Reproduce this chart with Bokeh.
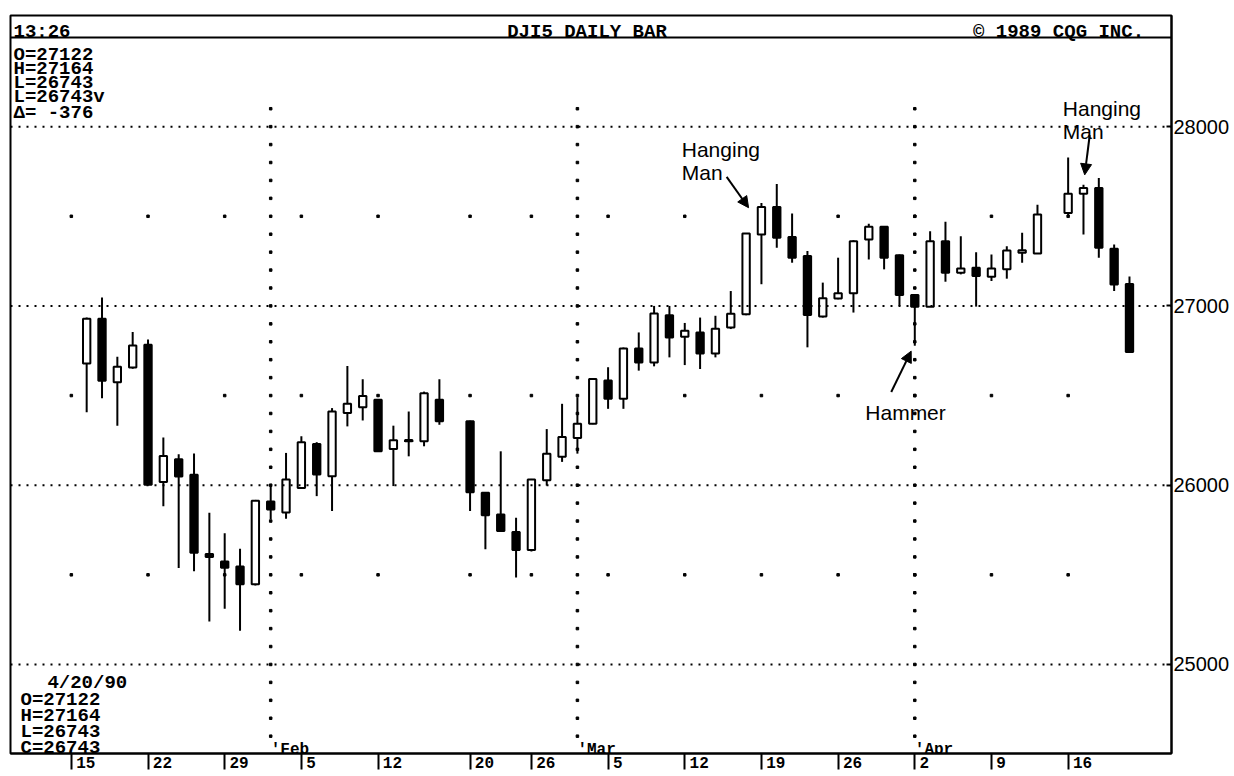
import numpy as np
from bokeh.plotting import figure
from bokeh.models import (Range1d, FixedTicker, Span, Arrow, NormalHead,
                          ColumnDataSource)
from bokeh.core.properties import value
from bokeh.embed import file_html
from bokeh.resources import INLINE

# ---------------- data ----------------
dates = ["1990-01-16", "1990-01-17", "1990-01-18", "1990-01-19",
         "1990-01-22", "1990-01-23", "1990-01-24", "1990-01-25", "1990-01-26",
         "1990-01-29", "1990-01-30", "1990-01-31", "1990-02-01", "1990-02-02",
         "1990-02-05", "1990-02-06", "1990-02-07", "1990-02-08", "1990-02-09",
         "1990-02-12", "1990-02-13", "1990-02-14", "1990-02-15", "1990-02-16",
         "1990-02-20", "1990-02-21", "1990-02-22", "1990-02-23",
         "1990-02-26", "1990-02-27", "1990-02-28", "1990-03-01", "1990-03-02",
         "1990-03-05", "1990-03-06", "1990-03-07", "1990-03-08", "1990-03-09",
         "1990-03-12", "1990-03-13", "1990-03-14", "1990-03-15", "1990-03-16",
         "1990-03-19", "1990-03-20", "1990-03-21", "1990-03-22", "1990-03-23",
         "1990-03-26", "1990-03-27", "1990-03-28", "1990-03-29", "1990-03-30",
         "1990-04-02", "1990-04-03", "1990-04-04", "1990-04-05", "1990-04-06",
         "1990-04-09", "1990-04-10", "1990-04-11", "1990-04-12",
         "1990-04-16", "1990-04-17", "1990-04-18", "1990-04-19", "1990-04-20"]

opens = [26679, 26928, 26574, 26656,
         26783, 26018, 26145, 26058, 25616,
         25574, 25547, 25447, 25909, 25847,
         25985, 26230, 26050, 26402, 26435,
         26476, 26202, 26245, 26245, 26476,
         26356, 25958, 25837, 25739,
         25639, 26028, 26158, 26263, 26343,
         26584, 26482, 26763, 26685, 26948,
         26828, 26852, 26735, 26880, 26954,
         27398, 27552, 27385, 27278, 26941,
         27041, 27071, 27371, 27441, 27282,
         27061, 26996, 27361, 27185, 27213,
         27163, 27204, 27296, 27293,
         27519, 27626, 27658, 27319, 27122]

highs = [26935, 27047, 26716, 26855,
         26812, 26266, 26172, 26177, 25846,
         25732, 25646, 25918, 26000, 26180,
         26273, 26240, 26430, 26665, 26591,
         26480, 26332, 26411, 26522, 26591,
         26360, 25960, 26189, 25819,
         26035, 26313, 26454, 26491, 26598,
         26658, 26768, 26852, 27000, 27000,
         26905, 26935, 26945, 27083, 27406,
         27574, 27680, 27515, 27306, 27130,
         27269, 27367, 27458, 27445, 27287,
         27063, 27417, 27469, 27389, 27300,
         27287, 27333, 27408, 27565,
         27828, 27676, 27713, 27343, 27164]

lows = [26407, 26485, 26331, 26650,
        26000, 25882, 25538, 25520, 25239,
        25311, 25188, 25440, 25810, 25813,
        25985, 25939, 25856, 26328, 26361,
        26185, 25995, 26161, 26217, 26337,
        25856, 25643, 25740, 25485,
        25630, 25998, 26130, 26176, 26340,
        26426, 26426, 26639, 26663, 26713,
        26670, 26648, 26713, 26871, 26948,
        27121, 27324, 27241, 26769, 26935,
        27037, 26963, 27259, 27204, 27000,
        26778, 26994, 27135, 27176, 26996,
        27139, 27152, 27241, 27290,
        27500, 27398, 27269, 27083, 26743]

closes = [26928, 26583, 26661, 26779,
          26003, 26163, 26049, 25623, 25600,
          25540, 25447, 25913, 25864, 26032,
          26239, 26060, 26411, 26454, 26498,
          26189, 26250, 26252, 26513, 26356,
          25961, 25832, 25745, 25639,
          26032, 26176, 26269, 26343, 26593,
          26482, 26763, 26685, 26958, 26824,
          26861, 26735, 26872, 26956, 27404,
          27552, 27380, 27269, 26950, 27043,
          27071, 27361, 27441, 27269, 27061,
          26996, 27361, 27185, 27209, 27167,
          27209, 27309, 27311, 27510,
          27626, 27658, 27324, 27119, 26743]

week_tick_dates = ["1990-01-15", "1990-01-22", "1990-01-29", "1990-02-05",
                   "1990-02-12", "1990-02-20", "1990-02-26", "1990-03-05",
                   "1990-03-12", "1990-03-19", "1990-03-26", "1990-04-02",
                   "1990-04-09", "1990-04-16"]
week_tick_labels = ["15", "22", "29", "5", "12", "20", "26", "5", "12", "19",
                    "26", "2", "9", "16"]
month_dates = ["1990-02-01", "1990-03-01", "1990-04-02"]
month_labels = ["'Feb", "'Mar", "'Apr"]
price_ticks = [25000, 26000, 27000, 28000]
price_labels = ["25000", "26000", "27000", "28000"]
half_levels = [25500, 26500, 27500]

header_left = "13:26"
header_title = "DJI5 DAILY BAR"
header_right = "\u00a9  1989 CQG INC."
info_top = ["O=27122", "H=27164", "L=26743", "L=26743v", "\u0394= -376"]
info_date = "4/20/90"
info_bottom = ["O=27122", "H=27164", "L=26743", "C=26743"]

# ---------------- layout helpers (page pixels -> data) ----------------
START = "1990-01-15"
PX0, PPD = 71.0, 15.375        # page x of index 0, pixels per weekday
PTOP, YTOP, PPU = 15.0, 28620.0, 0.18
W, H = 1232, 775


def xd(px):
    return (px - PX0) / PPD


def yd(py):
    return YTOP - (py - PTOP) / PPU


def bidx(d):
    return int(np.busday_count(START, d))


MONO = value("Liberation Mono")
SANS = value("Liberation Sans")
NB = "\u00a0"

p = figure(width=W, height=H, output_backend="svg", toolbar_location=None,
           x_range=Range1d(xd(10), xd(1174)), y_range=Range1d(yd(756), YTOP),
           y_axis_location="right")
p.min_border_left = 10
p.min_border_top = 15
p.min_border_right = 0
p.min_border_bottom = 0
p.grid.visible = False
p.outline_line_color = "black"
p.outline_line_width = 2
p.background_fill_color = "white"
p.border_fill_color = "white"

# bottom axis (labels padded so they sit just right of each tick mark)
wt = [bidx(d) for d in week_tick_dates]
xa = p.xaxis[0]
xa.ticker = FixedTicker(ticks=wt, minor_ticks=[])
xa.major_label_overrides = {t: NB * (len(l) + 1) + l
                            for t, l in zip(wt, week_tick_labels)}
xa.major_label_text_font = "Liberation Mono"
xa.major_label_text_font_size = "16px"
xa.major_label_text_font_style = "bold"
xa.major_label_text_color = "black"
xa.major_tick_in = 0
xa.major_tick_out = 16
xa.major_label_standoff = -15
xa.major_tick_line_width = 2
xa.major_tick_line_color = "black"
xa.axis_line_width = 2
xa.axis_line_color = "black"
xa.minor_tick_in = 0
xa.minor_tick_out = 0

# right axis
ya = p.yaxis[0]
ya.ticker = FixedTicker(ticks=price_ticks, minor_ticks=[])
ya.major_label_overrides = {t: l for t, l in zip(price_ticks, price_labels)}
ya.major_label_text_font = "Liberation Sans"
ya.major_label_text_font_size = "20px"
ya.major_label_text_color = "black"
ya.major_tick_in = 5
ya.major_tick_out = 0
ya.major_label_standoff = 2
ya.major_tick_line_width = 2
ya.axis_line_width = 2
ya.axis_line_color = "black"
ya.minor_tick_in = 0
ya.minor_tick_out = 0

# dotted grid
for lvl in price_ticks:
    p.add_layout(Span(location=lvl, dimension="width", line_color="black",
                      line_width=2, line_dash="2 6"))
gx, gy = [], []
for lvl in half_levels:
    for t in wt:
        gx.append(t)
        gy.append(lvl)
for d in month_dates:
    for lvl in np.arange(24600, 28101, 100):
        gx.append(bidx(d))
        gy.append(lvl)
p.scatter(gx, gy, marker="square", size=2.5, color="black")

# header band
p.add_layout(Span(location=yd(37), dimension="width", line_color="black",
                  line_width=2))
hdr = dict(text_font=MONO, text_font_size=value("19px"), text_color="black",
           text_baseline="alphabetic", text_font_style="bold")
p.text(x=[xd(13)], y=[yd(32)], text=[header_left], **hdr)
p.text(x=[xd(588)], y=[yd(32)], text=[header_title], text_align="center", **hdr)
p.text(x=[xd(975)], y=[yd(32)], text=[header_right], **hdr)

# info blocks
top_base = [55, 69, 83, 97, 113]
p.text(x=[xd(13)] * len(info_top), y=[yd(b) for b in top_base], text=info_top,
       **hdr)
p.text(x=[xd(47)], y=[yd(685)], text=[info_date], **hdr)
bot_base = [702, 718, 734, 750]
p.text(x=[xd(20)] * len(info_bottom), y=[yd(b) for b in bot_base],
       text=info_bottom, **hdr)

# month labels
p.text(x=[bidx(d) for d in month_dates], y=[yd(752)] * 3, text=month_labels,
       text_font=MONO, text_font_size=value("16px"), text_color="black",
       text_baseline="alphabetic", text_font_style="bold")

# candles
xs = [bidx(d) for d in dates]
src = ColumnDataSource(dict(
    x=xs, high=highs, low=lows,
    top=[max(o, c) for o, c in zip(opens, closes)],
    bottom=[min(o, c) for o, c in zip(opens, closes)],
    fill=["white" if c >= o else "black" for o, c in zip(opens, closes)],
))
p.segment(x0="x", y0="low", x1="x", y1="high", source=src, line_color="black",
          line_width=2)
p.vbar(x="x", width=0.48, top="top", bottom="bottom", fill_color="fill",
       line_color="black", line_width=2, source=src)

# annotations
ann_text = ["Hanging", "Man", "Hanging", "Man", "Hammer"]
ann_px = [683, 683, 1065, 1065, 867]
ann_py = [150, 173, 108, 131, 414]
p.text(x=[xd(a) for a in ann_px], y=[yd(b) for b in ann_py], text=ann_text,
       text_font=SANS, text_font_size=value("21px"), text_color="black",
       text_baseline="alphabetic")
arrows = [((728, 177), (750, 208)), ((893, 393), (913, 352)),
          ((1092, 135), (1087, 175))]
for (x0, y0), (x1, y1) in arrows:
    p.add_layout(Arrow(end=NormalHead(size=11, fill_color="black",
                                      line_color="black"),
                       x_start=xd(x0), y_start=yd(y0), x_end=xd(x1),
                       y_end=yd(y1), line_width=2, line_color="black"))

open("out.html", "w").write(file_html(p, INLINE))
